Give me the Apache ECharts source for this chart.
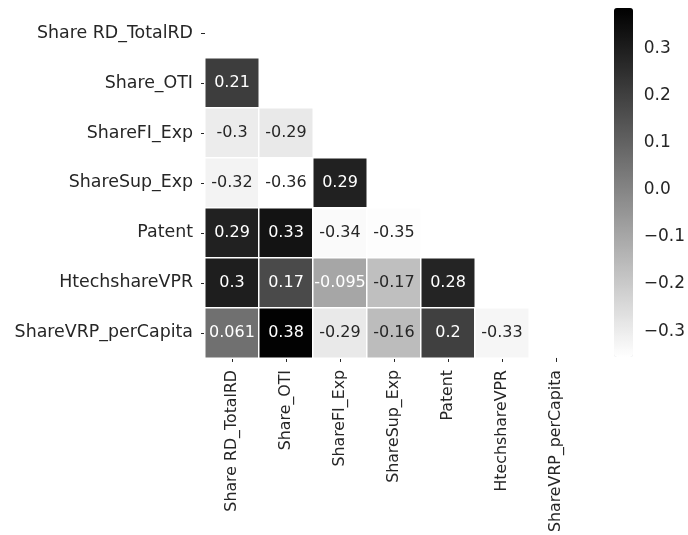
<!DOCTYPE html>
<html>
<head>
<meta charset="utf-8">
<script src="https://cdn.jsdelivr.net/npm/echarts@6/dist/echarts.min.js"></script>
<style>
  html, body { margin: 0; padding: 0; background: #ffffff; }
  #chart { width: 688px; height: 535px; }
</style>
</head>
<body>
<div id="chart"></div>
<script>
// Variables of the correlation matrix (same order on both axes)
const variables = ['Share RD_TotalRD', 'Share_OTI', 'ShareFI_Exp', 'ShareSup_Exp',
                   'Patent', 'HtechshareVPR', 'ShareVRP_perCapita'];

// Lower triangle of the correlation matrix, one row per variable
const rowShareOTI      = [0.21];
const rowShareFIExp    = [-0.3, -0.29];
const rowShareSupExp   = [-0.32, -0.36, 0.29];
const rowPatent        = [0.29, 0.33, -0.34, -0.35];
const rowHtechshare    = [0.3, 0.17, -0.095, -0.17, 0.28];
const rowShareVRPcap   = [0.061, 0.38, -0.29, -0.16, 0.2, -0.33];

// Colour bar range and tick values
const colorMin = -0.355;
const colorMax = 0.386;
const colorTicks = [-0.3, -0.2, -0.1, 0.0, 0.1, 0.2, 0.3];

// Linear grey ramp, white (low) to black (high)
const greyRamp = ['#ffffff', '#000000'];

const rows = [[], rowShareOTI, rowShareFIExp, rowShareSupExp, rowPatent, rowHtechshare, rowShareVRPcap];
const cells = [];
rows.forEach((vals, i) => vals.forEach((v, j) => cells.push([j, i, v])));

// Grey level (0..1) of a value on the colour scale, used to pick a readable text colour
function greyLevel(v) {
  const t = Math.max(0, Math.min(1, (v - colorMin) / (colorMax - colorMin)));
  return 1 - t;
}
function luminance(g) {
  return g <= 0.03928 ? g / 12.92 : Math.pow((g + 0.055) / 1.055, 2.4);
}

const font = 'DejaVu Sans';
const textColor = '#262626';

const chart = echarts.init(document.getElementById('chart'), null, { renderer: 'canvas' });

chart.setOption({
  animation: false,
  backgroundColor: '#ffffff',
  textStyle: { fontFamily: font },
  grid: [
    { left: 205, top: 8, width: 378, height: 350 },
    { left: 614, top: 8, width: 19, height: 349 }
  ],
  xAxis: [
    {
      type: 'category', gridIndex: 0, data: variables,
      axisLine: { show: false },
      axisTick: { show: true, length: 4, alignWithLabel: true, lineStyle: { color: textColor, width: 1 } },
      axisLabel: { rotate: 90, margin: 12, fontSize: 15.8, color: textColor, fontFamily: font, interval: 0 },
      splitLine: { show: false }
    },
    { type: 'value', gridIndex: 1, show: false, min: 0, max: 1 }
  ],
  yAxis: [
    {
      type: 'category', gridIndex: 0, data: variables, inverse: true,
      axisLine: { show: false },
      axisTick: { show: true, length: 4, alignWithLabel: true, lineStyle: { color: textColor, width: 1 } },
      axisLabel: { margin: 12, fontSize: 17.4, color: textColor, fontFamily: font, interval: 0 },
      splitLine: { show: false }
    },
    {
      type: 'value', gridIndex: 1, position: 'right', min: colorMin, max: colorMax,
      axisLine: { show: false },
      splitLine: { show: false },
      axisTick: { show: true, length: 4, inside: false, customValues: colorTicks,
                  lineStyle: { color: textColor, width: 1 } },
      axisLabel: {
        show: true, margin: 11, fontSize: 17, color: textColor, fontFamily: font,
        customValues: colorTicks,
        formatter: v => (v < 0 ? '\u2212' : '') + Math.abs(v).toFixed(1)
      }
    }
  ],
  visualMap: {
    type: 'continuous',
    min: colorMin, max: colorMax,
    calculable: false,
    seriesIndex: 0,
    orient: 'vertical',
    left: 614, top: 8,
    itemWidth: 19, itemHeight: 349,
    padding: 0,
    text: null,
    showLabel: false,
    inRange: { color: greyRamp },
    hoverLink: false
  },
  series: [{
    type: 'heatmap',
    xAxisIndex: 0, yAxisIndex: 0,
    data: cells,
    itemStyle: { borderColor: '#ffffff', borderWidth: 1.5 },
    emphasis: { disabled: true },
    label: {
      show: true,
      fontFamily: font,
      fontSize: 16,
      formatter: p => {
        const v = p.value[2];
        const style = luminance(greyLevel(v)) > 0.408 ? 'd' : 'w';
        return '{' + style + '|' + String(v) + '}';
      },
      rich: {
        d: { color: textColor, fontSize: 16, fontFamily: font },
        w: { color: '#ffffff', fontSize: 16, fontFamily: font }
      }
    }
  }]
});
</script>
</body>
</html>
